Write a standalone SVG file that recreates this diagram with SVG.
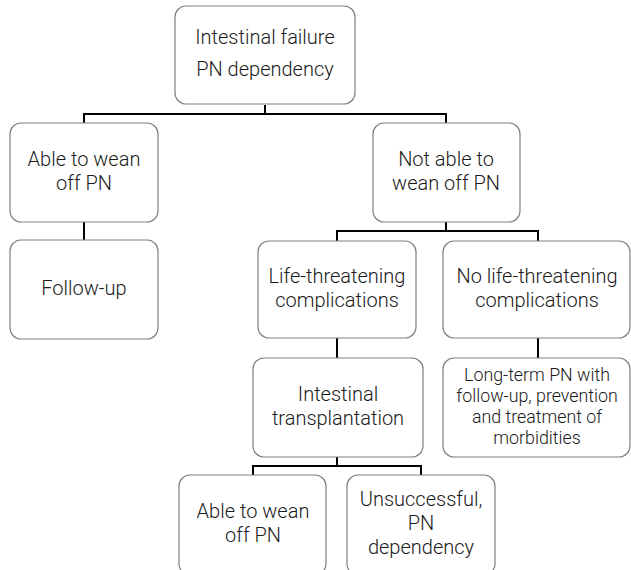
<svg xmlns="http://www.w3.org/2000/svg" width="631" height="570" viewBox="0 0 631 570">
<style>
.box{fill:#fff;stroke:#808080;stroke-width:1.2}
.t{font-family:Roboto,"Open Sans",sans-serif;font-weight:300;font-size:20px;fill:#1a1a1a;text-anchor:middle}
.s{font-size:17.8px}
.c{fill:none;stroke:#000;stroke-width:2}
</style>
<rect width="631" height="570" fill="#fff"/>
<g id="connectors">
<path class="c" d="M265 105V114M84 123V114H446V123"/>
<path class="c" d="M84 222V240"/>
<path class="c" d="M446 222V231M337 241V231H538V241"/>
<path class="c" d="M337 338V358"/>
<path class="c" d="M538 338V358"/>
<path class="c" d="M337 457V466M253 475V466H421V475"/>
</g>
<g id="n1"><rect class="box" x="175" y="6" width="180" height="98" rx="11"/>
<text class="t" x="265" y="44">Intestinal failure</text><text class="t" x="265" y="76">PN dependency</text></g>
<g id="n2"><rect class="box" x="10" y="123" width="148" height="99" rx="11"/>
<text class="t" x="84" y="166">Able to wean</text><text class="t" x="84" y="190">off PN</text></g>
<g id="n3"><rect class="box" x="373" y="123" width="147" height="99" rx="11"/>
<text class="t" x="446" y="166">Not able to</text><text class="t" x="446" y="190">wean off PN</text></g>
<g id="n4"><rect class="box" x="10" y="240" width="148" height="99" rx="11"/>
<text class="t" x="84" y="295">Follow-up</text></g>
<g id="n5"><rect class="box" x="258" y="241" width="158" height="97" rx="11"/>
<text class="t" x="337" y="283">Life-threatening</text><text class="t" x="337" y="307">complications</text></g>
<g id="n6"><rect class="box" x="443" y="241" width="187" height="97" rx="11"/>
<text class="t" x="537" y="283">No life-threatening</text><text class="t" x="537" y="307">complications</text></g>
<g id="n7"><rect class="box" x="253" y="358" width="170" height="99" rx="11"/>
<text class="t" x="338" y="401">Intestinal</text><text class="t" x="338" y="425">transplantation</text></g>
<g id="n8"><rect class="box" x="443" y="358" width="187" height="99" rx="11"/>
<text class="t s" x="537" y="381">Long-term PN with</text><text class="t s" x="537" y="402">follow-up, prevention</text><text class="t s" x="537" y="423">and treatment of</text><text class="t s" x="537" y="444">morbidities</text></g>
<g id="n9"><rect class="box" x="179" y="475" width="147" height="100" rx="11"/>
<text class="t" x="253" y="518">Able to wean</text><text class="t" x="253" y="542">off PN</text></g>
<g id="n10"><rect class="box" x="347" y="475" width="148" height="100" rx="11"/>
<text class="t" x="421" y="506">Unsuccessful,</text><text class="t" x="421" y="530">PN</text><text class="t" x="421" y="554">dependency</text></g>
</svg>
